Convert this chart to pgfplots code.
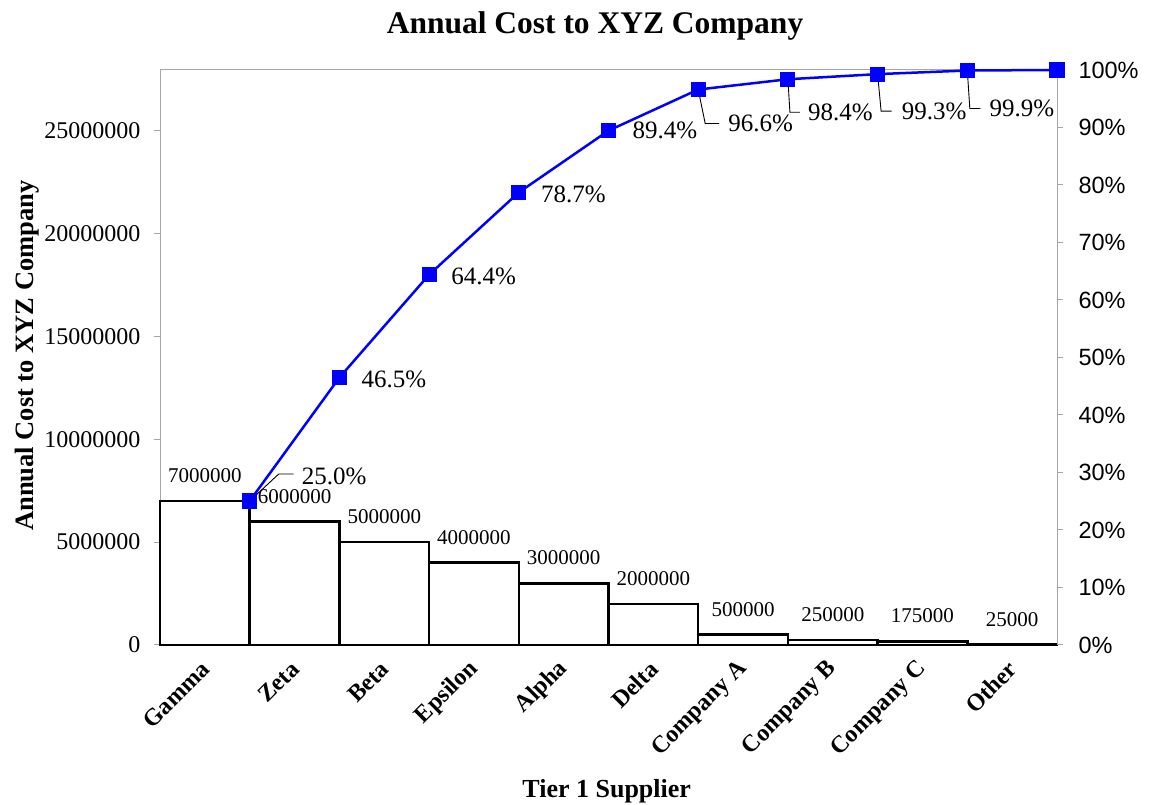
\documentclass[border=0pt]{standalone}
\usepackage{fontspec}
\setmainfont{Liberation Serif}
\newfontfamily\arial{Liberation Sans}
\usepackage{pgfplots}
\usepackage{pgfplotstable}
\pgfplotsset{compat=1.18}

\pgfplotstableread{
x cost
0.5 7000000
1.5 6000000
2.5 5000000
3.5 4000000
4.5 3000000
5.5 2000000
6.5 500000
7.5 250000
8.5 175000
9.5 25000
}\costs

\pgfplotstableread{
x pct
1 25.04
2 46.51
3 64.40
4 78.71
5 89.45
6 96.60
7 98.39
8 99.28
9 99.91
10 100
}\cum

\pgfplotstableread{
x pct lab dx dy
1 25.04 25.0 52 25
2 46.51 46.5 22 -2
3 64.40 64.4 22 -2
4 78.71 78.7 22 -2
5 89.45 89.4 24 0
6 96.60 96.6 30 -34
7 98.39 98.4 20 -33
8 99.28 99.3 24 -37
9 99.91 99.9 22 -38
}\cumlab

\begin{document}
\begin{tikzpicture}[x=1pt,y=1pt]
\useasboundingbox (0,0) rectangle (1150,805);
\begin{axis}[
  at={(160pt,160pt)}, anchor=south west,
  scale only axis, width=897pt, height=575pt,
  xmin=0, xmax=10, ymin=0, ymax=27950000,
  clip=false, scaled y ticks=false,
  axis line style={draw=gray!70, line width=1pt},
  tick align=outside, major tick length=6pt,
  xtick={0.5,1.5,...,9.5},
  xticklabels={Gamma,Zeta,Beta,Epsilon,Alpha,Delta,Company A,Company B,Company C,Other},
  xtick pos=bottom,
  x tick style={draw=none},
  xticklabel style={xshift=3pt, yshift=-12pt, rotate=45, anchor=east, font=\fontsize{24}{28}\selectfont\bfseries},
  ytick={0,5000000,10000000,15000000,20000000,25000000},
  yticklabels={0,5000000,10000000,15000000,20000000,25000000},
  ytick pos=left,
  y tick style={draw=gray!70, line width=1pt},
  yticklabel style={xshift=-10pt, font=\fontsize{24}{28}\selectfont},
  title={Annual Cost to XYZ Company},
  title style={at={(axis description cs:0.485,1)}, anchor=base, yshift=30pt, font=\fontsize{31.5}{36}\selectfont\bfseries},
  xlabel={Tier 1 Supplier},
  xlabel style={at={(axis description cs:0.498,0)}, anchor=base, yshift=-152pt, font=\fontsize{26}{30}\selectfont\bfseries},
  ylabel={Annual Cost to XYZ Company},
  ylabel style={at={(axis description cs:-0.1405,0.5035)}, anchor=base, font=\fontsize{26.5}{30}\selectfont\bfseries},
]
\addplot[ybar, bar width=1, fill=white, draw=black, line width=2.5pt,
  point meta=explicit symbolic,
  nodes near coords,
  nodes near coords style={anchor=south, inner sep=0pt, yshift=17pt, font=\fontsize{21}{24}\selectfont, text=black}]
  table[x=x, y=cost, meta=cost]{\costs};
\end{axis}

\begin{axis}[
  at={(160pt,160pt)}, anchor=south west,
  scale only axis, width=897pt, height=575pt,
  xmin=0, xmax=10, ymin=0, ymax=100,
  clip=false,
  axis x line=none, axis y line*=right,
  axis line style={draw=gray!70, line width=1pt},
  tick align=outside, major tick length=6pt,
  y tick style={draw=gray!70, line width=1pt},
  ytick={0,10,...,100},
  yticklabels={0\%,10\%,20\%,30\%,40\%,50\%,60\%,70\%,80\%,90\%,100\%},
  yticklabel style={xshift=12pt, font=\arial\fontsize{23.5}{28}\selectfont},
]
\draw[black, line width=0.9pt] (axis cs:1,25.04) -- ++(29pt,27pt) -- ++(15pt,0pt);
\draw[black, line width=0.9pt] (axis cs:6,96.60) -- ++(7pt,-34pt) -- ++(14pt,0pt);
\draw[black, line width=0.9pt] (axis cs:7,98.39) -- ++(2pt,-33pt) -- ++(10pt,0pt);
\draw[black, line width=0.9pt] (axis cs:8,99.28) -- ++(3.5pt,-37pt) -- ++(10.5pt,0pt);
\draw[black, line width=0.9pt] (axis cs:9,99.91) -- ++(2.5pt,-38pt) -- ++(10.5pt,0pt);
\addplot[color={rgb,255:red,0;green,0;blue,255}, line width=2.5pt, mark=square*, mark size=6.3pt, mark options={solid}]
  table[x=x, y=pct]{\cum};
\addplot[draw=none, mark=none,
  point meta=explicit symbolic,
  visualization depends on={\thisrow{dx}\as\dx},
  visualization depends on={\thisrow{dy}\as\dy},
  nodes near coords={\pgfplotspointmeta\%},
  nodes near coords style={anchor=west, inner sep=0pt, xshift=\dx pt, yshift=\dy pt, font=\fontsize{25}{30}\selectfont, text=black}]
  table[x=x, y=pct, meta=lab]{\cumlab};
\end{axis}
\end{tikzpicture}
\end{document}
